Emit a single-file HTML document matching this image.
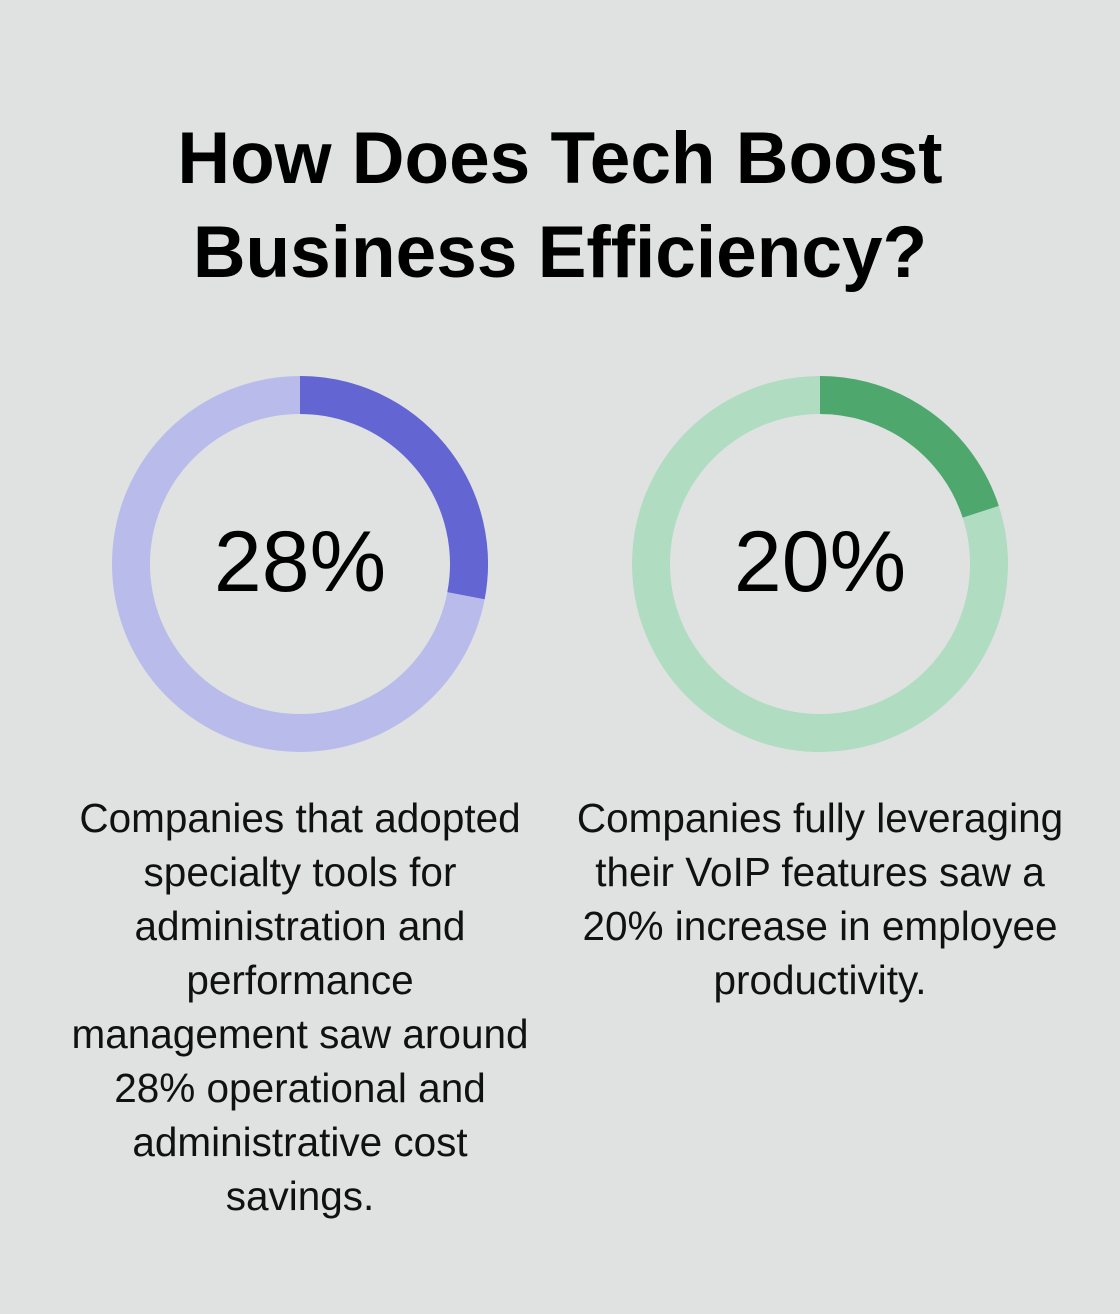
<!DOCTYPE html>
<html><head><meta charset="utf-8">
<style>
html,body{margin:0;padding:0;}
body{width:1120px;height:1314px;background:#e0e2e1;font-family:"Liberation Sans",sans-serif;position:relative;overflow:hidden;}
#title{position:absolute;top:112px;left:0;width:1120px;text-align:center;font-weight:bold;font-size:73px;line-height:94px;color:#000;margin:0;}
.desc{position:absolute;top:791px;width:520px;text-align:center;font-size:40.5px;line-height:54px;color:#111;font-weight:300;white-space:nowrap;}
svg{position:absolute;left:0;top:0;}
</style></head><body>
<h1 id="title">How Does Tech Boost<br>Business Efficiency?</h1>
<svg id="chart" width="1120" height="1314"></svg>
<div class="desc" style="left:40px">Companies that adopted<br>specialty tools for<br>administration and<br>performance<br>management saw around<br>28% operational and<br>administrative cost<br>savings.</div>
<div class="desc" style="left:560px">Companies fully leveraging<br>their VoIP features saw a<br>20% increase in employee<br>productivity.</div>
<script>
const labels = ["admin-savings","voip-productivity"];
const values = [28, 20];
const centersX = [300, 820];
const darkColors = ["#6265d2", "#4ea86e"];
const lightColors = ["#b9bceb", "#b0dcc2"];
const svg = document.getElementById('chart');
const NS = "http://www.w3.org/2000/svg";
const cy = 564, r = 169, sw = 38;
function pt(cx, frac){const a = frac*2*Math.PI - Math.PI/2; return [cx + r*Math.cos(a), cy + r*Math.sin(a)];}
values.forEach((v,i)=>{
  const cx = centersX[i];
  const bg = document.createElementNS(NS,'circle');
  bg.setAttribute('cx',cx);bg.setAttribute('cy',cy);bg.setAttribute('r',r);
  bg.setAttribute('fill','none');bg.setAttribute('stroke',lightColors[i]);bg.setAttribute('stroke-width',sw);
  
  
  svg.appendChild(bg);
  const f = v/100;
  const [x0,y0] = pt(cx,0), [x1,y1] = pt(cx,f);
  const arc = document.createElementNS(NS,'path');
  arc.setAttribute('d',`M${x0},${y0} A${r},${r} 0 ${f>0.5?1:0} 1 ${x1},${y1}`);
  arc.setAttribute('fill','none');arc.setAttribute('stroke',darkColors[i]);arc.setAttribute('stroke-width',sw);
  
  
  svg.appendChild(arc);
  const t = document.createElementNS(NS,'text');
  t.setAttribute('x',cx);t.setAttribute('y',cy+27);t.setAttribute('text-anchor','middle');
  t.setAttribute('font-family','"Liberation Sans",sans-serif');t.setAttribute('font-size','86');t.setAttribute('fill','#000');
  t.textContent = v + '%';
  
  
  svg.appendChild(t);
});
</script>
</body></html>
